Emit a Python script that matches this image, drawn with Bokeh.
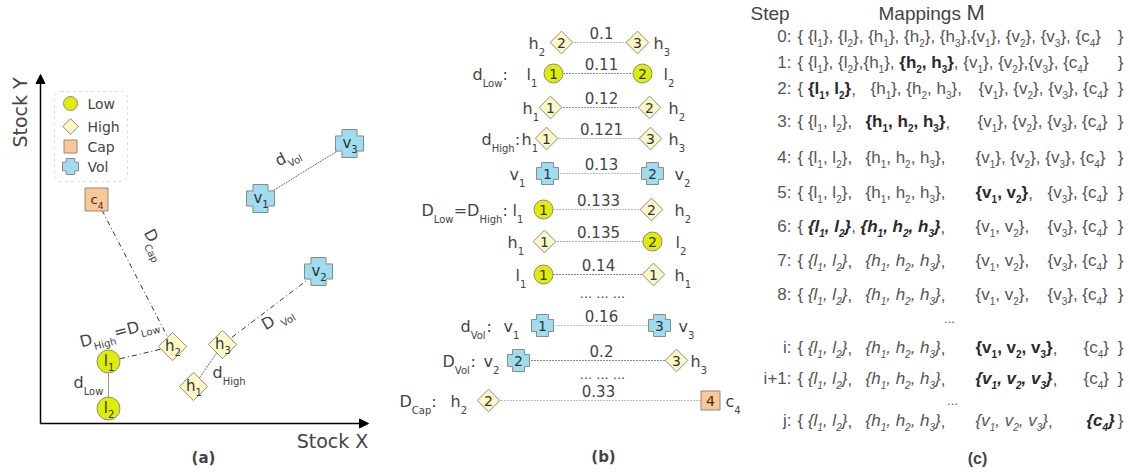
import math
from bokeh.plotting import figure
from bokeh.models import Range1d, Arrow, NormalHead, BoxAnnotation, ColumnDataSource
from bokeh.core.properties import value
from bokeh.embed import file_html
from bokeh.resources import INLINE

# ---------------- data ----------------
# panel (a): nodes in the Stock X / Stock Y plane
a_names = ["l1", "l2", "h1", "h2", "h3", "v1", "v2", "v3", "c4"]
a_x = [108, 108, 193, 172, 222, 260, 318, 349, 96]
a_y = [361, 408, 386, 346, 344, 198, 271, 143, 199]
a_edge_from = ["c4", "l1", "h3", "h1", "l1", "v1"]
a_edge_to = ["h2", "h2", "v2", "h3", "l2", "v3"]
a_edge_kind = ["dashdot", "dashdot", "dashdot", "dot", "dot", "dot"]
a_edge_label = ["D[Cap]", "D[High]=D[Low]", "D [Vol]", "d[High]", "d[Low]", "d[Vol]"]
a_label_x = [143, 81, 265, 212, 73, 278]
a_label_y = [232, 347, 330, 378, 388, 166]
a_label_angle = [-63, 15, 30, 0, 0, 27]
legend_labels = ["Low", "High", "Cap", "Vol"]
legend_kinds = ["low", "high", "cap", "vol"]
legend_y = [103, 126, 146, 166]

# panel (b): sorted pairwise distances
b_dist = ["0.1", "0.11", "0.12", "0.121", "0.13", "0.133", "0.135", "0.14", "0.16", "0.2", "0.33"]
b_left = ["h2", "l1", "h1", "h1", "v1", "l1", "h1", "l1", "v1", "v2", "h2"]
b_right = ["h3", "l2", "h2", "h3", "v2", "h2", "l2", "h1", "v3", "h3", "c4"]
b_left_num = ["2", "1", "1", "1", "1", "1", "1", "1", "1", "2", "2"]
b_right_num = ["3", "2", "2", "3", "2", "2", "2", "1", "3", "3", "4"]
b_prefix = ["", "d[Low]:", "", "d[High]:", "", "D[Low]=D[High]:", "", "", "d[Vol]:", "D[Vol]:", "D[Cap]:"]
b_y = [42, 73, 107, 138, 173, 209, 241, 274, 325, 360, 400]
b_lx = [561, 553, 550, 546, 547, 543, 544, 543, 542, 518, 488]
b_rx = [637, 642, 649, 650, 652, 651, 652, 653, 659, 676, 710]
b_lname_x = [528, 526, 522, 521, 509, 512, 507, 515, 503, 483, 450]
b_rname_x = [653, 663, 668, 668, 674, 674, 675, 674, 678, 690, 725]
b_prefix_x = [0, 472, 0, 481, 0, 421, 0, 0, 460, 442, 399]
b_dist_x = [601, 601, 601, 601, 601, 598, 598, 598, 601, 601, 598]
b_line_color = ["#777777", "#111111", "#222222", "#777777", "#777777", "#777777",
                "#555555", "#111111", "#888888", "#111111", "#777777"]
b_ellipsis_y = [293, 374]

# panel (c): mapping steps
c_labels = ["0:", "1:", "2:", "3:", "4:", "5:", "6:", "7:", "8:", "i:", "i+1:", "j:"]
c_y = [36, 62, 88, 121, 157, 192, 226, 260, 294, 347, 378, 420]
c_groups = [
    [(797, "n", "{ {l[1]}, {l[2]}, {h[1]}, {h[2]}, {h[3]},{v[1]}, {v[2]}, {v[3]}, {c[4]}")],
    [(797, "n", "{ {l[1]}, {l[2]},{h[1]}, "), (None, "b", "{h[2], h[3]}"),
     (None, "n", ", {v[1]}, {v[2]},{v[3]}, {c[4]}")],
    [(797, "n", "{ "), (None, "b", "{l[1], l[2]}"), (None, "n", ","),
     (870, "n", "{h[1]}, {h[2], h[3]},"), (978, "n", "{v[1]}, {v[2]}, {v[3]}, {c[4]}")],
    [(797, "n", "{ {l[1], l[2]},"), (865, "b", "{h[1], h[2], h[3]}"), (None, "n", ","),
     (977, "n", "{v[1]}, {v[2]}, {v[3]}, {c[4]}")],
    [(797, "n", "{ {l[1], l[2]},"), (865, "n", "{h[1], h[2], h[3]},"),
     (975, "n", "{v[1]}, {v[2]}, {v[3]}, {c[4]}")],
    [(797, "n", "{ {l[1], l[2]},"), (865, "n", "{h[1], h[2], h[3]},"),
     (975, "b", "{v[1], v[2]}"), (None, "n", ","), (1047, "n", "{v[3]}, {c[4]}")],
    [(797, "n", "{ "), (None, "bi", "{l[1], l[2]}"), (None, "n", ", "),
     (None, "bi", "{h[1], h[2], h[3]}"), (None, "n", ","),
     (975, "n", "{v[1], v[2]},"), (1047, "n", "{v[3]}, {c[4]}")],
    [(797, "n", "{ "), (None, "i", "{l[1], l[2]}"), (None, "n", ","),
     (865, "i", "{h[1], h[2], h[3]}"), (None, "n", ","),
     (975, "n", "{v[1], v[2]},"), (1047, "n", "{v[3]}, {c[4]}")],
    [(797, "n", "{ "), (None, "i", "{l[1], l[2]}"), (None, "n", ","),
     (865, "i", "{h[1], h[2], h[3]}"), (None, "n", ","),
     (975, "n", "{v[1], v[2]},"), (1047, "n", "{v[3]}, {c[4]}")],
    [(797, "n", "{ "), (None, "i", "{l[1], l[2]}"), (None, "n", ","),
     (865, "i", "{h[1], h[2], h[3]}"), (None, "n", ","),
     (975, "b", "{v[1], v[2], v[3]}"), (None, "n", ","), (1083, "n", "{c[4]}")],
    [(797, "n", "{ "), (None, "i", "{l[1], l[2]}"), (None, "n", ","),
     (865, "i", "{h[1], h[2], h[3]}"), (None, "n", ","),
     (975, "bi", "{v[1], v[2], v[3]}"), (None, "n", ","), (1083, "n", "{c[4]}")],
    [(797, "n", "{ "), (None, "i", "{l[1], l[2]}"), (None, "n", ","),
     (865, "i", "{h[1], h[2], h[3]}"), (None, "n", ","),
     (975, "i", "{v[1], v[2], v[3]}"), (None, "n", ","), (1086, "bi", "{c[4]}")],
]
c_ellipsis = [(949, 318), (952, 400)]

# ---------------- styling ----------------
LOW, HIGH, CAP, VOL, EDGE = "#dfee00", "#fdf9c6", "#fcc794", "#9fdcef", "#8a8a8a"
KIND = {"l": "low", "h": "high", "v": "vol", "c": "cap"}
DV = "DejaVu Sans"
LS = "Liberation Sans"
W, H = 1130, 472

W_DV = {" ": .318, ":": .337, "=": .838, ".": .318, "C": .698, "D": .770, "H": .752,
        "L": .557, "V": .684, "a": .613, "c": .550, "d": .635, "g": .635, "h": .634,
        "i": .278, "l": .278, "o": .612, "p": .635, "v": .592, "w": .818}
for dch in "0123456789":
    W_DV[dch] = .636
W_LS = {" ": .278, "{": .334, "}": .334, ",": .278, ":": .278, "+": .584, ".": .278,
        "c": .5, "h": .556, "i": .222, "j": .222, "l": .222, "v": .5}
W_LSB = {" ": .278, "{": .389, "}": .389, ",": .278, "c": .556, "h": .611, "l": .278, "v": .556}
for dch in "0123456789":
    W_LS[dch] = .556
    W_LSB[dch] = .556

TEXT = {}


def put(x, y, s, font=DV, size=16, style="normal", color="#444444", angle=0.0,
        align="left", baseline="alphabetic"):
    # an alphabetic baseline y is turned into the em-box middle, shifted along the text's normal
    if baseline == "alphabetic":
        a = math.radians(angle)
        sh = 0.35 * size
        x, y = x - math.sin(a) * sh, y - math.cos(a) * sh
        baseline = "middle"
    key = (font, style, size, color, align, baseline)
    d = TEXT.setdefault(key, {"x": [], "y": [], "t": [], "a": []})
    d["x"].append(x)
    d["y"].append(-y)
    d["t"].append(s)
    d["a"].append(math.radians(angle))


def width(s, size, font, style):
    if font == DV:
        tbl = W_DV
    else:
        tbl = W_LSB if "bold" in style else W_LS
    return sum(tbl.get(ch, .55) for ch in s) * size


def parse(m):
    segs, buf = [], ""
    for ch in m:
        if ch == "[":
            if buf:
                segs.append((buf, False))
            buf = ""
        elif ch == "]":
            segs.append((buf, True))
            buf = ""
        else:
            buf += ch
    if buf:
        segs.append((buf, False))
    return segs


def rich(x, y, markup, font=DV, size=16, sub=10, drop=6, style="normal",
         color="#444444", angle=0.0, measure=False):
    a = math.radians(angle)
    ux, uy = math.cos(a), -math.sin(a)
    dx, dy = math.sin(a), math.cos(a)
    pos = 0.0
    for text, is_sub in parse(markup):
        fs = sub if is_sub else size
        off = drop if is_sub else 0
        if not measure:
            put(x + ux * pos + dx * off, y + uy * pos + dy * off, text, font, fs, style, color, angle)
        pos += width(text, fs, font, style)
    return pos


p = figure(width=W, height=H, x_range=Range1d(0, W), y_range=Range1d(-H, 0),
           toolbar_location=None, output_backend="svg", min_border=0,
           x_axis_location=None, y_axis_location=None, outline_line_color=None)
p.grid.visible = False


def plus_shape(cx, cy, s):
    a, b = s / 2, s * 0.27
    xs = [cx - b, cx + b, cx + b, cx + a, cx + a, cx + b, cx + b, cx - b, cx - b, cx - a, cx - a, cx - b]
    ys = [cy - a, cy - a, cy - b, cy - b, cy + b, cy + b, cy + a, cy + a, cy + b, cy + b, cy - b, cy - b]
    return xs, [-v for v in ys]


def shapes(xs, ys, kinds, sz):
    for kind in ["low", "high", "cap", "vol"]:
        px = [x for x, k in zip(xs, kinds) if k == kind]
        py = [-y for y, k in zip(ys, kinds) if k == kind]
        if not px:
            continue
        if kind == "low":
            p.scatter(px, py, marker="circle", size=sz["low"], fill_color=LOW, line_color=EDGE)
        elif kind == "high":
            p.scatter(px, py, marker="square", size=sz["high"], angle=math.pi / 4,
                      fill_color=HIGH, line_color=EDGE)
        elif kind == "cap":
            p.scatter(px, py, marker="square", size=sz["cap"], fill_color=CAP, line_color=EDGE)
        else:
            pxs, pys = [], []
            for x, y in zip(px, py):
                sx, sy = plus_shape(x, -y, sz["vol"])
                pxs.append(sx)
                pys.append(sy)
            p.patches(pxs, pys, fill_color=VOL, line_color=EDGE)


# ---------------- panel (a) ----------------
p.add_layout(Arrow(end=NormalHead(size=9, fill_color="black", line_color="black"),
                   x_start=40, y_start=-423, x_end=40, y_end=-74, line_width=1.5))
p.add_layout(Arrow(end=NormalHead(size=9, fill_color="black", line_color="black"),
                   x_start=40, y_start=-423, x_end=368, y_end=-423, line_width=1.5))
put(19, 112, "Stock Y", DV, 19, color="#444444", angle=90, align="center", baseline="middle")
put(332, 440, "Stock X", DV, 19, color="#444444", align="center", baseline="middle")
put(203, 457, "(a)", DV, 15, "bold", "#444444", align="center", baseline="middle")

pos = {n: (x, y) for n, x, y in zip(a_names, a_x, a_y)}
for f, t, k in zip(a_edge_from, a_edge_to, a_edge_kind):
    (x0, y0), (x1, y1) = pos[f], pos[t]
    p.line([x0, x1], [-y0, -y1], line_color="#333333", line_width=1,
           line_dash="5 3 1 3" if k == "dashdot" else "1 1")
for lab, lx, ly, ang in zip(a_edge_label, a_label_x, a_label_y, a_label_angle):
    rich(lx, ly, lab, DV, 16, 10, 6, angle=ang)

a_kinds = [KIND[n[0]] for n in a_names]
shapes(a_x, a_y, a_kinds, {"low": 23, "high": 20, "cap": 23, "vol": 28})
for n, x, y in zip(a_names, a_x, a_y):
    fs, ss = (13, 9) if n[0] == "c" else (15, 10)
    mk = n[0] + "[" + n[1:] + "]"
    w = rich(0, 0, mk, DV, fs, ss, 4, measure=True)
    rich(x - w / 2 + 0.5, y + 5, mk, DV, fs, ss, 4, color="#333333")

p.add_layout(BoxAnnotation(left=54, right=127, top=-91, bottom=-181, fill_color=None,
                           line_color="#666666", line_dash="dotted", line_width=1, border_radius=7))
shapes([70] * 4, legend_y, legend_kinds, {"low": 14, "high": 11, "cap": 13, "vol": 16})
for lab, y in zip(legend_labels, legend_y):
    put(87, y, lab, DV, 14, color="#444444", baseline="middle")

# ---------------- panel (b) ----------------
for i in range(len(b_dist)):
    y = b_y[i]
    p.line([b_lx[i] + 10, b_rx[i] - 10], [-y, -y], line_color=b_line_color[i],
           line_width=1.2, line_dash="1 2")
shapes(b_lx + b_rx, b_y + b_y, [KIND[n[0]] for n in b_left + b_right],
       {"low": 19, "high": 16, "cap": 19, "vol": 22})
for i in range(len(b_dist)):
    y = b_y[i]
    put(b_lx[i], y + 5, b_left_num[i], DV, 14, color="#333333", align="center")
    put(b_rx[i], y + 5, b_right_num[i], DV, 14, color="#333333", align="center")
    put(b_dist_x[i], y - 4, b_dist[i], DV, 15, color="#444444", align="center")
    rich(b_lname_x[i], y + 7, b_left[i][0] + "[" + b_left[i][1:] + "]", DV, 16, 10, 6)
    rich(b_rname_x[i], y + 7, b_right[i][0] + "[" + b_right[i][1:] + "]", DV, 16, 10, 6)
    if b_prefix[i]:
        rich(b_prefix_x[i], y + 7, b_prefix[i], DV, 16, 10, 6)
for y in b_ellipsis_y:
    put(602, y, "... ... ...", DV, 13, color="#444444", align="center", baseline="middle")
put(603, 456, "(b)", DV, 15, "bold", "#444444", align="center", baseline="middle")

# ---------------- panel (c) ----------------
STY = {"n": "normal", "b": "bold", "i": "italic", "bi": "bold italic"}
put(750, 20, "Step", LS, 19, color="#444444")
put(878, 20, "Mappings", LS, 19, color="#444444")
put(966, 20, "M", LS, 22, color="#444444")
for lab, cy, groups in zip(c_labels, c_y, c_groups):
    base = cy + 6
    put(791, base, lab, LS, 17, color="#555555", align="right")
    cur = 797
    for gx, st, mk in groups:
        if gx is not None:
            cur = gx
        style = STY[st]
        col = "#2a2a2a" if "bold" in style else "#555555"
        cur += rich(cur, base, mk, LS, 17, 10, 4, style=style, color=col)
    put(1123, base, "}", LS, 17, color="#555555", align="right")
for ex, ey in c_ellipsis:
    put(ex, ey, "...", LS, 13, color="#555555", align="center", baseline="middle")
put(977, 458, "(c)", LS, 16, "bold", "#444444", align="center", baseline="middle")

for (font, style, size, color, align, baseline), d in TEXT.items():
    src = ColumnDataSource(dict(x=d["x"], y=d["y"], text=d["t"], angle=d["a"]))
    p.text(x="x", y="y", text="text", angle="angle", source=src, text_font=value(font),
           text_font_style=style, text_font_size=f"{size}px", text_color=color,
           text_align=align, text_baseline=baseline)

open("out.html", "w").write(file_html(p, INLINE))
